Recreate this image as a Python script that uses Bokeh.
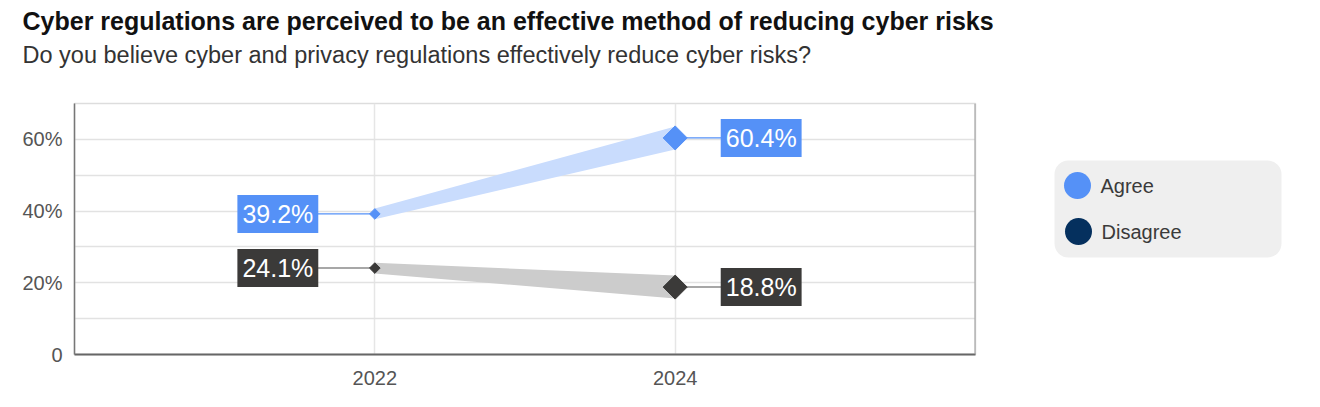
from bokeh.plotting import figure
from bokeh.models import Range1d, FixedTicker, Title, Span, BoxAnnotation
from bokeh.layouts import row
from bokeh.core.properties import value
from bokeh.embed import file_html
from bokeh.resources import INLINE

# ---- data ----
years = [2022, 2024]
agree = [39.2, 60.4]
disagree = [24.1, 18.8]
y_ticks = [0, 20, 40, 60]
y_tick_labels = ["0", "20%", "40%", "60%"]
series_names = ["Agree", "Disagree"]

# ---- style ----
FONT = "Liberation Sans"
BLUE = "#5591f7"
BLUE_BAND = "#c9dcfd"
DARK = "#3b3a39"
GREY_BAND = "#cccccc"
NAVY = "#05305e"
band_half = [1.5, 3.2]          # ribbon half-width (style)
marker_sizes = [7.5, 17]        # diamond size at each year (style)

p = figure(width=1008, height=405, output_backend="svg", toolbar_location=None,
           x_range=Range1d(2020, 2026), y_range=Range1d(0, 70),
           min_border_left=74, min_border_right=33, min_border_bottom=51, min_border_top=103)
p.title = None

spacer = Title(text=" ", text_font=FONT, text_font_size="1px", standoff=33)
sub = Title(text="Do you believe cyber and privacy regulations effectively reduce cyber risks?",
            text_font=FONT, text_font_size="23.5px", text_font_style="normal",
            text_color="#333333", align="left", offset=-52, standoff=0)
main = Title(text="Cyber regulations are perceived to be an effective method of reducing cyber risks",
             text_font=FONT, text_font_size="25px", text_font_style="bold",
             text_color="#111111", align="left", offset=-52, standoff=9)
p.add_layout(spacer, "above")
p.add_layout(sub, "above")
p.add_layout(main, "above")

# axes
p.yaxis.ticker = FixedTicker(ticks=y_ticks)
p.yaxis.major_label_overrides = {t: l for t, l in zip(y_ticks, y_tick_labels)}
p.xaxis.ticker = FixedTicker(ticks=years)
for ax in (p.xaxis, p.yaxis):
    ax.major_tick_line_color = None
    ax.minor_tick_line_color = None
    ax.major_label_text_font = FONT
    ax.major_label_text_font_size = "20px"
    ax.major_label_text_color = "#555555"
p.yaxis.axis_line_color = "#777777"
p.yaxis.axis_line_width = 1.5
p.yaxis.major_label_standoff = 6
p.xaxis.axis_line_color = "#666666"
p.xaxis.axis_line_width = 2
p.xaxis.major_label_standoff = 10

p.ygrid.ticker = FixedTicker(ticks=[10, 20, 30, 40, 50, 60])
p.ygrid.grid_line_color = "#e2e2e2"
p.ygrid.grid_line_width = 1.5
p.xgrid.ticker = FixedTicker(ticks=years)
p.xgrid.grid_line_color = "#e6e6e6"
p.xgrid.grid_line_width = 1.5
p.outline_line_color = "#dddddd"
p.outline_line_width = 1.5
p.add_layout(Span(location=2026, dimension="height", line_color="#9a9a9a", line_width=2))
p.background_fill_color = "white"
p.border_fill_color = "white"

# ribbons
p.varea(x=years, y1=[v - h for v, h in zip(agree, band_half)],
        y2=[v + h for v, h in zip(agree, band_half)], fill_color=BLUE_BAND)
p.varea(x=years, y1=[v - h for v, h in zip(disagree, band_half)],
        y2=[v + h for v, h in zip(disagree, band_half)], fill_color=GREY_BAND)

# leader lines (first year -> left label, last year -> right label)
lead = 0.4
p.segment(x0=[years[0], years[1]], y0=[agree[0], agree[1]],
          x1=[years[0] - lead, years[1] + lead], y1=[agree[0], agree[1]],
          line_color=BLUE, line_width=1.3)
p.segment(x0=[years[0], years[1]], y0=[disagree[0], disagree[1]],
          x1=[years[0] - lead, years[1] + lead], y1=[disagree[0], disagree[1]],
          line_color="#8a8a8a", line_width=1.5)

# diamonds
p.scatter(x=years, y=agree, marker="square", angle=0.785398, size=marker_sizes,
          fill_color=BLUE, line_color=BLUE)
p.scatter(x=years, y=disagree, marker="square", angle=0.785398, size=marker_sizes,
          fill_color=DARK, line_color=DARK)

# value labels
def labels(vals, bg):
    for i, (x, v) in enumerate(zip(years, vals)):
        left = i == 0
        p.text(x=[x], y=[v], text=[f"{v}%"],
               text_align="center", text_baseline="middle",
               x_offset=-97 if left else 86,
               text_color="white", text_font=value(FONT), text_font_size="25px",
               background_fill_color=bg, padding=5)

labels(agree, BLUE)
labels(disagree, DARK)

# ---- legend panel (frame aligned with chart frame; coordinates in page pixels) ----
lg = figure(width=310, height=405, output_backend="svg", toolbar_location=None,
            x_range=Range1d(1008, 1318), y_range=Range1d(354, 103),
            min_border=0, min_border_left=0, min_border_right=0)
lg.axis.visible = False
lg.grid.visible = False
lg.outline_line_color = None
lg.title = None
lg.add_layout(BoxAnnotation(left=1054, right=1281, top=160, bottom=257,
                            fill_color="#efefef", fill_alpha=1, line_color=None,
                            border_radius=14, level="underlay"))
lg.scatter(x=[1077, 1078], y=[185, 231], size=27, fill_color=[BLUE, NAVY], line_color=None)
lg.text(x=[1100, 1101], y=[185, 231], text=series_names, text_baseline="middle",
        text_font=value(FONT), text_font_size="20px", text_color="#3a3a3a")

layout = row(p, lg)
open("out.html", "w").write(file_html(layout, INLINE))
